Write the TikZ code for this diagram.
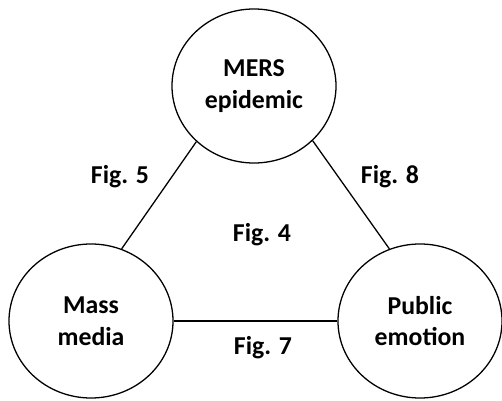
\documentclass[tikz,border=0pt]{standalone}
\usepackage{fontspec}
\setmainfont{Carlito}
\usetikzlibrary{shapes.geometric}
\tikzset{blob/.style={ellipse,draw,line width=1.1pt,minimum width=4.92cm,minimum height=4.62cm,inner sep=0pt,align=center,font=\fontsize{22}{27}\selectfont\bfseries},
figlabel/.style={font=\fontsize{22}{27}\selectfont\bfseries}}
\begin{document}
\begin{tikzpicture}[x=0.03cm,y=-0.03cm]
\useasboundingbox (0,0) rectangle (502,401);
\coordinate (A) at (254,86);
\coordinate (B) at (91,321);
\coordinate (C) at (420,321);
\node[blob] (mers) at (A) {MERS\\epidemic};
\node[blob] (media) at (B) {Mass\\media};
\node[blob] (emotion) at (C) {Public\\emotion};
\draw[line width=1.1pt] (mers.224) -- (media.67);
\draw[line width=1.1pt] (mers.317) -- (emotion.113);
\draw[line width=1.1pt] (media) -- (emotion);
\node[figlabel] (fig5) at (120,177) {Fig. 5};
\node[figlabel] (fig8) at (390,177) {Fig. 8};
\node[figlabel] (fig4) at (262,235) {Fig. 4};
\node[figlabel] (fig7) at (263,348) {Fig. 7};
\end{tikzpicture}
\end{document}
